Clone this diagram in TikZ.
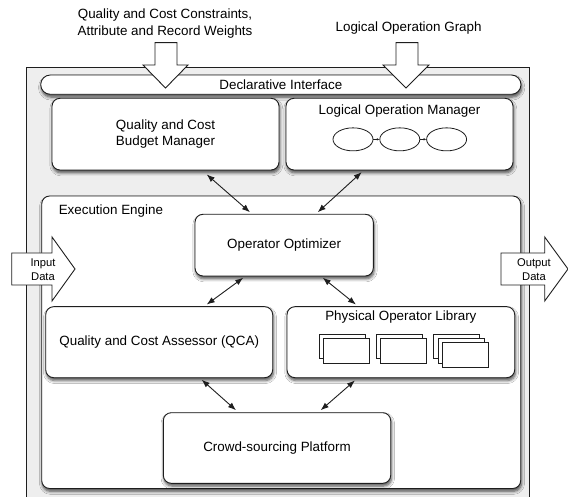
\documentclass[tikz,border=0pt]{standalone}
\usepackage{fontspec}
\setmainfont{Liberation Sans}
\usetikzlibrary{shapes.geometric, arrows.meta, positioning, calc, shadows.blur}
\definecolor{frameGray}{RGB}{238, 238, 238}
\definecolor{lineDark}{RGB}{30, 30, 30}

\begin{document}
\begin{tikzpicture}[
    x=1pt, y=-1pt,
    font=\fontsize{13.4}{16}\selectfont,
    softshadow/.style={
        blur shadow={shadow xshift=0.8pt, shadow yshift=-2.8pt,
            shadow blur radius=3pt, shadow blur steps=6, shadow opacity=70}
    },
    container/.style={
        rectangle,
        rounded corners=8pt,
        inner sep=0pt,
        draw=lineDark,
        line width=0.9pt,
        fill=white
    },
    module/.style={
        container,
        minimum width=227pt,
        minimum height=71pt,
        align=center,
        softshadow
    },
    title/.style={
        inner sep=0pt,
        align=center
    },
    opnode/.style={
        ellipse,
        minimum width=40pt,
        minimum height=23pt,
        inner sep=0pt,
        draw=lineDark,
        line width=0.8pt,
        fill=white
    },
    sheet/.style={
        rectangle,
        minimum width=46pt,
        minimum height=24.5pt,
        inner sep=0pt,
        draw=lineDark,
        line width=0.8pt,
        fill=white
    },
    flow/.style={
        draw=lineDark,
        line width=0.9pt,
        fill=white,
        line join=miter
    },
    biarrow/.style={
        <->,
        >={Latex[length=8pt,width=6pt]},
        line width=0.9pt,
        color=lineDark
    },
    tinyarrow/.style={
        ->,
        >={Latex[length=2.5pt,width=2.5pt]},
        line width=0.6pt,
        color=lineDark
    }
]
\useasboundingbox (0,0) rectangle (568,497);

% Outer frame
\node[container, rounded corners=0pt, fill=frameGray, minimum width=503pt, minimum height=445pt] (frame) at (278.2,289.8) {};

% Declarative interface bar
\node[container, rounded corners=9.6pt, minimum width=480.3pt, minimum height=19.3pt, softshadow] (declif) at (280.85,84.65) {Declarative Interface};

% Upper modules
\node[module, minimum height=71.7pt] (budget) at (165.5,134.15) {Quality and Cost\\Budget Manager};
\node[module, minimum height=71.7pt] (lom) at (399.5,134.15) {};
\node[title] (lomtitle) at ($(lom.north)+(0,12.7)$) {Logical Operation Manager};
\node[opnode] (op1) at ($(lom.center)+(-46.5,5.2)$) {};
\node[opnode, right=6pt of op1] (op2) {};
\node[opnode, right=6pt of op2] (op3) {};
\draw[tinyarrow] (op1) -- (op2);
\draw[tinyarrow] (op2) -- (op3);

% Execution engine
\node[container, minimum width=479pt, minimum height=292.5pt, softshadow] (exec) at (281.2,342.25) {};
\node[title, anchor=west] (exectitle) at ($(exec.north west)+(17.3,15.7)$) {Execution Engine};

\node[module, minimum width=178.3pt, minimum height=61.7pt] (optim) at (284.15,245.15) {Operator Optimizer};
\node[module] (qca) at (159.2,342.2) {Quality and Cost Assessor (QCA)};
\node[module, minimum width=227.7pt] (pol) at (400.85,342.2) {};
\node[title] (poltitle) at ($(pol.north)+(0,11)$) {Physical Operator Library};
\node[module, minimum width=227.4pt, minimum height=70.6pt] (crowd) at (277,448) {Crowd-sourcing Platform};

% Operator sheets
\foreach \s/\dx/\n in {1/-58.85/2, 2/-1.55/2, 3/55.85/3}
    \foreach \k in {1,...,\n}
        \node[sheet] (sheet\s\k) at ($(pol.center)+({\dx+4.3*(\k-1)},{4.35+4.1*(\k-1)})$) {};

% Connectors
\draw[biarrow] ($(budget.south)+(41.2,4)$) -- ($(optim.north)+(-34.2,-1.6)$);
\draw[biarrow] ($(lom.south)+(-37.8,1.7)$) -- ($(optim.north)+(33.6,-1.6)$);
\draw[biarrow] ($(optim.south)+(-40.9,1.3)$) -- ($(qca.north)+(47.5,-1.7)$);
\draw[biarrow] ($(optim.south)+(38.6,1.3)$) -- ($(pol.north)+(-44.9,-1.7)$);
\draw[biarrow] ($(qca.south)+(42.5,1.6)$) -- ($(crowd.north)+(-41,-2)$);
\draw[biarrow] ($(pol.south)+(-45.9,2.3)$) -- ($(crowd.north)+(43.7,-2)$);

% Input / output data
\draw[flow] (11.7,253) -- (52,253) -- (52,237) -- (75,269) -- (52,301) -- (52,285) -- (11.7,285) -- cycle;
\node[title, font=\fontsize{11.2}{14}\selectfont] (indata) at (43,270) {Input\\Data};
\draw[flow] (501,253) -- (544.7,253) -- (544.7,237) -- (568,269) -- (544.7,301) -- (544.7,285) -- (501,285) -- cycle;
\node[title, font=\fontsize{11.2}{14}\selectfont] (outdata) at (534,270) {Output\\Data};

% Incoming specifications
\node[title, font=\fontsize{13.4}{16.7}\selectfont] (constraints) at (165,23.4) {Quality and Cost Constraints,\\Attribute and Record Weights};
\node[title] (graph) at (408.6,27.7) {Logical Operation Graph};
\draw[flow] (155,42.7) -- (177,42.7) -- (177,65) -- (188,65) -- (165.5,88) -- (143,65) -- (155,65) -- cycle;
\draw[flow] (396,42.7) -- (418,42.7) -- (418,65) -- (429,65) -- (406,88) -- (383,65) -- (396,65) -- cycle;

\end{tikzpicture}
\end{document}
